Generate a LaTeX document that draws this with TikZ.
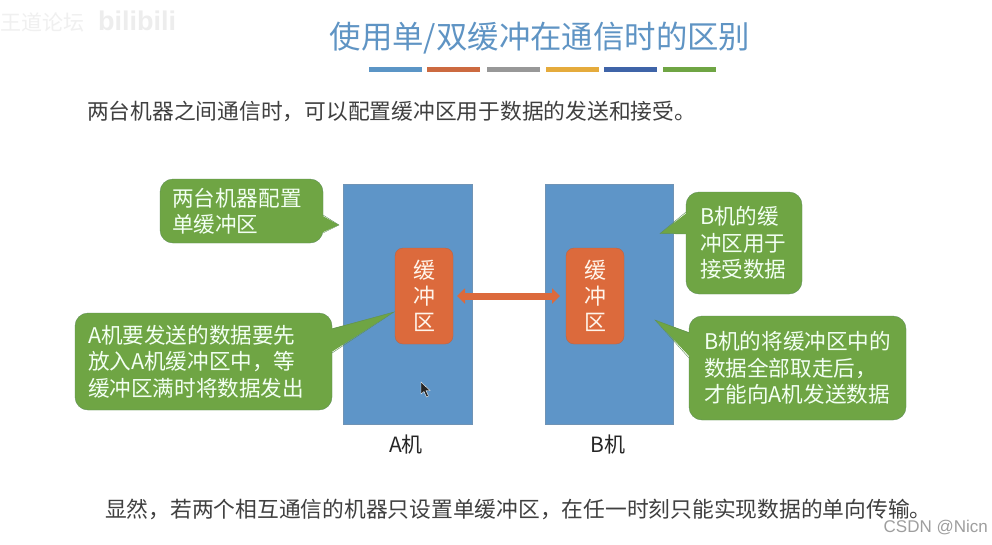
\documentclass[tikz,border=0pt]{standalone}
\usepackage{fontspec}
\usepackage{xcolor}
\usetikzlibrary{arrows.meta}
\setmainfont{Liberation Sans}
\newfontfamily\cjk{Noto Sans CJK SC}
\newcommand{\zhcomma}{\char"FF0C\relax}
\definecolor{boxblue}{HTML}{5E95C8}
\definecolor{boxedge}{HTML}{6F93B5}
\definecolor{bufred}{HTML}{DC6A3C}
\definecolor{bufedge}{HTML}{B5654A}
\definecolor{callgreen}{HTML}{6FA544}
\definecolor{calledge}{HTML}{5F8F58}
\definecolor{titleblue}{HTML}{5F94C4}
\tikzset{
    machine/.style={draw=boxedge, fill=boxblue, minimum height=240pt, inner sep=0pt, outer sep=0pt},
    buffer/.style={draw=bufedge, fill=bufred, rounded corners=8pt, minimum width=58pt, minimum height=96pt,
                   inner sep=0pt, outer sep=0pt, align=center, text=white!92!orange,
                   font=\cjk\fontsize{22}{26.3}\selectfont},
    callbox/.style={draw=calledge, fill=callgreen, rounded corners=13pt, inner ysep=0pt, outer sep=0pt, align=left,
                    text=white!95!green, font=\cjk\fontsize{21.6}{26.3}\selectfont},
    bodytext/.style={text=black!75, inner sep=0pt, font=\cjk\fontsize{21.75}{26}\selectfont},
}
\begin{document}
\begin{tikzpicture}[x=1pt, y=-1pt]
    \useasboundingbox (0,0) rectangle (992,544);
    \fill[white] (0,0) rectangle (992,544);

    % Watermark
    \node[inner sep=0pt, text=black!6, font=\cjk\fontsize{21}{21}\selectfont] (mark) at (42,22) {王道论坛};
    \node[inner sep=0pt, text=black!7, font=\bfseries\fontsize{27}{27}\selectfont] (site) at (137,21) {bilibili};

    % Title and colour bars
    \node[inner sep=0pt, text=titleblue, font=\cjk\fontsize{31.4}{32}\selectfont] (title) at (540,38) {使用单/双缓冲在通信时的区别};
    \foreach \xa/\xb/\col in {369/422/5B95C6, 427/480/CC6A40, 487/540/989898, 546/599/E5AB3C, 604/657/3F64A8, 663/716/6FA544}{
        \definecolor{barcol}{HTML}{\col}
        \fill[barcol] (\xa,67) rectangle (\xb,71.5);
    }

    % Upper and lower sentences
    \node[bodytext, anchor=west] (intro) at (87,111) {两台机器之间通信时\zhcomma 可以配置缓冲区用于数据的发送和接受。};
    \node[bodytext, anchor=west] (result) at (105,509) {显然\zhcomma 若两个相互通信的机器只设置单缓冲区\zhcomma 在任一时刻只能实现数据的单向传输。};

    % Machines
    \node[machine, minimum width=129pt] (hostA) at (407.5,304) {};
    \node[machine, minimum width=128pt] (hostB) at (609.3,304) {};
    \node[bodytext, text=black!85, font=\cjk\fontsize{21}{21}\selectfont] (labelA) at (406,445) {A机};
    \node[bodytext, text=black!85, font=\cjk\fontsize{21}{21}\selectfont] (labelB) at (608,445) {B机};

    % Buffers
    \node[buffer] (bufA) at (424,296) {缓\\冲\\区};
    \node[buffer] (bufB) at (595,296) {缓\\冲\\区};
    \draw[{Triangle[length=8pt,width=15pt]}-{Triangle[length=8pt,width=15pt]}, line width=7pt, draw=bufred,
          shorten <=4pt, shorten >=6pt] (bufA) -- (bufB);

    % Callouts
    \node[callbox, inner xsep=12pt, text width=139pt, minimum height=64pt] (noteA) at (241.5,211) {两台机器配置\\单缓冲区};
    \node[callbox, inner xsep=13pt, text width=231pt, minimum height=97pt] (noteB) at (203.5,361.5) {A机要发送的数据要先\\放入A机缓冲区中\zhcomma 等\\缓冲区满时将数据发出};
    \node[callbox, inner xsep=14pt, text width=88pt, minimum height=102pt] (noteC) at (744,243) {B机的缓\\冲区用于\\接受数据};
    \node[callbox, inner xsep=15pt, text width=187pt, minimum height=104pt] (noteD) at (797.5,368) {B机的将缓冲区中的\\数据全部取走后\zhcomma \\才能向A机发送数据};

    % Callout pointers
    \coordinate (tipA) at (339,225);
    \coordinate (tipB) at (394,312);
    \coordinate (tipC) at (660,233.5);
    \coordinate (tipD) at (655,320);
    \foreach \nd/\tp/\side/\dx/\ya/\yb in {noteA/tipA/east/-2/-4/-22, noteB/tipB/east/-2/32.5/8.5,
                                          noteC/tipC/west/2/31/9, noteD/tipD/west/2/35/10}{
        \coordinate (baseA) at ([yshift=\ya pt]\nd.\side);
        \coordinate (baseB) at ([yshift=\yb pt]\nd.\side);
        \fill[callgreen] ([xshift=\dx pt]baseA) -- (\tp) -- ([xshift=\dx pt]baseB) -- cycle;
        \draw[calledge] (baseA) -- (\tp) -- (baseB);
    }

    % Mouse cursor
    \filldraw[fill=black!85, draw=white, line width=0.4pt] (421,382) -- (421,394) -- (424,391.5) -- (426.5,397) -- (428.5,396) -- (426,390.5) -- (430,390.5) -- cycle;

    % Site stamp
    \node[inner sep=0pt, anchor=east, text=black!38, font=\fontsize{17}{17}\selectfont] (stamp) at (988,528) {CSDN @Nicn};
\end{tikzpicture}
\end{document}
